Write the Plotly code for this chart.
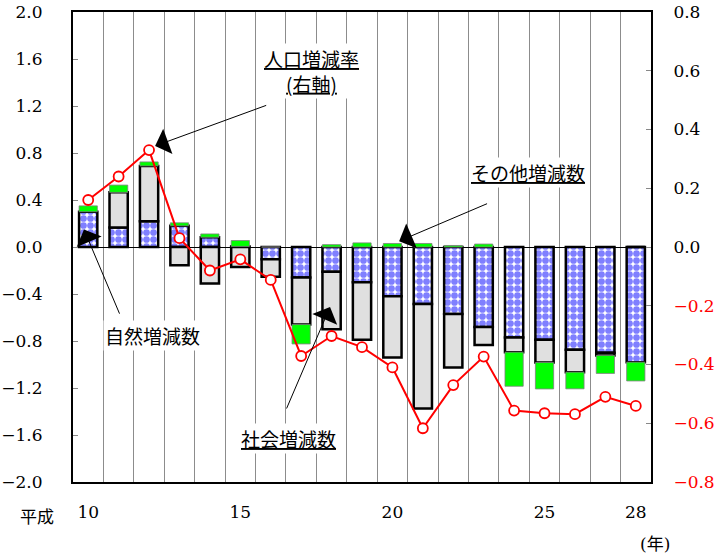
import plotly.graph_objects as go

years = list(range(10, 29))
natural = [0.30, 0.165, 0.22, 0.18, 0.083, 0.005, -0.105, -0.26, -0.21, -0.30,
           -0.42, -0.485, -0.57, -0.68, -0.77, -0.79, -0.875, -0.90, -0.98]
social = [0.0, 0.30, 0.47, -0.155, -0.31, -0.17, -0.148, -0.40, -0.49, -0.49,
          -0.52, -0.89, -0.455, -0.155, -0.125, -0.193, -0.19, -0.023, 0.0]
other = [0.05, 0.062, 0.034, 0.026, 0.028, 0.05, 0.0, -0.165, 0.02, 0.035,
         0.03, 0.03, 0.013, 0.025, -0.29, -0.225, -0.142, -0.153, -0.16]
rate = [0.16, 0.24, 0.33, 0.03, -0.08, -0.042, -0.112, -0.371, -0.303, -0.341,
        -0.41, -0.617, -0.47, -0.373, -0.557, -0.566, -0.569, -0.51, -0.541]

x_tickvals = [10, 15, 20, 25, 28]
x_ticktext = ["10", "15", "20", "25", "28"]
left_ticks = [-2.0, -1.6, -1.2, -0.8, -0.4, 0.0, 0.4, 0.8, 1.2, 1.6, 2.0]
right_ticks = [-0.8, -0.6, -0.4, -0.2, 0.0, 0.2, 0.4, 0.6, 0.8]

FONT = "DejaVu Serif, Noto Sans CJK JP"
CJK = "Noto Sans CJK JP"


def fmt(v):
    s = f"{abs(v):.1f}"
    return ("\u2212" + s) if v < 0 else s


left_text = [fmt(v) for v in left_ticks]
right_text = [(f'<span style="color:#FF0000">{fmt(v)}</span>' if v < 0 else fmt(v))
              for v in right_ticks]

fig = go.Figure()
fig.add_trace(go.Bar(
    x=years, y=natural, width=0.6, name="自然増減数",
    marker=dict(color="white",
                pattern=dict(shape=".", fgcolor="#0000FF", bgcolor="white",
                             size=7, solidity=0.72),
                line=dict(color="black", width=2.5)),
))
fig.add_trace(go.Bar(
    x=years, y=social, width=0.6, name="社会増減数",
    marker=dict(color="#E0E0E0", line=dict(color="black", width=2.5)),
))
fig.add_trace(go.Bar(
    x=years, y=other, width=0.6, name="その他増減数",
    marker=dict(color="#00FF00", line=dict(color="#7f7f7f", width=0.8)),
))
fig.add_trace(go.Scatter(
    x=years, y=rate, yaxis="y2", mode="lines+markers", name="人口増減率",
    line=dict(color="#FF0000", width=2),
    marker=dict(symbol="circle", size=10, color="white",
                line=dict(color="#FF0000", width=1.8)),
))

annos = []
label_font = dict(family=CJK, size=19, color="black")
annos.append(dict(x=17.33, y=1.50, xref="x", yref="y", showarrow=False,
                  text="<u>人口増減率</u><br><u>(右軸)</u>", font=label_font,
                  bgcolor="white", align="center"))
annos.append(dict(x=24.45, y=0.63, xref="x", yref="y", showarrow=False,
                  text="<u>その他増減数</u>", font=label_font, bgcolor="white"))
annos.append(dict(x=12.1, y=-0.75, xref="x", yref="y", showarrow=False,
                  text="自然増減数", font=label_font, bgcolor="white"))
annos.append(dict(x=16.58, y=-1.63, xref="x", yref="y", showarrow=False,
                  text="<u>社会増減数</u>", font=label_font, bgcolor="white"))
arrows = [
    ((15.9, 1.21), (12.2, 0.86)),
    ((23.16, 0.374), (20.22, 0.05)),
    ((11.05, -0.58), (9.86, 0.15)),
    ((16.5, -1.387), (17.95, -0.51)),
]
for (tx, ty), (hx, hy) in arrows:
    annos.append(dict(x=hx, y=hy, ax=tx, ay=ty, xref="x", yref="y",
                      axref="x", ayref="y", text="", showarrow=True,
                      arrowhead=1, arrowsize=4.5, arrowwidth=1,
                      arrowcolor="black"))

W, H = 723, 559
PL, PR, PT, PB = 73, 651, 12, 482
L, T, R, B = PL, PT, W - PR, H - PB

annos.append(dict(x=37, y=515, xref="paper", yref="paper", text="平成",
                  xanchor="center", yanchor="middle",
                  showarrow=False, font=dict(family=CJK, size=17)))
annos.append(dict(x=655, y=544, xref="paper", yref="paper", text="(年)",
                  xanchor="center", yanchor="middle",
                  showarrow=False, font=dict(family=FONT, size=17)))
for a in annos:
    if a["xref"] == "paper":
        a["x"] = (a["x"] - PL) / (PR - PL)
        a["y"] = 1 - (a["y"] - PT) / (PB - PT)

tick_font = dict(family=FONT, size=17, color="black")
fig.update_layout(
    width=W, height=H,
    margin=dict(l=L, r=R, t=T, b=B),
    barmode="relative",
    showlegend=False,
    plot_bgcolor="white", paper_bgcolor="white",
    font=dict(family=FONT, size=17, color="black"),
    xaxis=dict(range=[9.5, 28.5], tickvals=x_tickvals, ticktext=x_ticktext,
               automargin=False,
               showgrid=False, ticks="", showline=True, linecolor="black",
               linewidth=2, mirror=True, zeroline=False,
               ticklabelstandoff=14, tickfont=tick_font,
               minor=dict(tick0=9.5, dtick=1, showgrid=True,
                          gridcolor="#8c8c8c", gridwidth=1, ticks="")),
    yaxis=dict(range=[-2.0, 2.0], tickvals=left_ticks, ticktext=left_text,
               automargin=False,
               showgrid=False, ticks="inside", ticklen=5, tickcolor="#888",
               showline=True, linecolor="black", linewidth=2,
               zeroline=True, zerolinecolor="black", zerolinewidth=1,
               ticklabelstandoff=25, tickfont=tick_font),
    yaxis2=dict(range=[-0.8, 0.8], tickvals=right_ticks, ticktext=right_text,
                automargin=False,
                overlaying="y", side="right", showgrid=False, ticks="inside",
                ticklen=5, tickcolor="#888", showline=True, linecolor="black",
                linewidth=2, zeroline=False, ticklabelstandoff=17,
                tickfont=tick_font),
    annotations=annos,
)

fig.write_html("out.html",
               config={"displayModeBar": False, "staticPlot": True},
               post_script="document.body.style.margin='0';"
                           "document.body.style.overflow='hidden';")
